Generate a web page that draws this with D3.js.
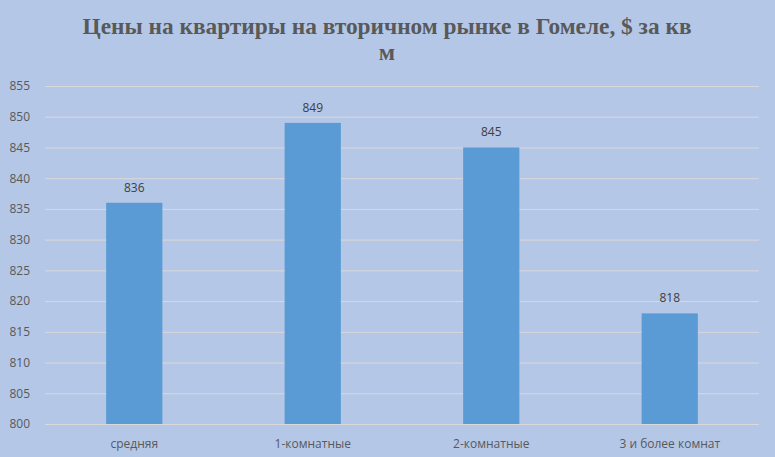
<!DOCTYPE html>
<html>
<head>
<meta charset="utf-8">
<script src="https://cdn.jsdelivr.net/npm/d3@7"></script>
<style>
	body { margin: 0; background: #b4c7e7; }
	svg { display: block; }
	.tick text { font-family: 'Open Sans', sans-serif; font-size: 12px; fill: #595959; }
	.label { font-family: 'Open Sans', sans-serif; font-size: 12px; fill: #404040; }
	.title { font-family: 'Liberation Serif', serif; font-weight: bold; font-size: 24px; fill: #595959; }
</style>
</head>
<body>
<svg width="775" height="457"></svg>
<script>
const categories = ['средняя', '1-комнатные', '2-комнатные', '3 и более комнат'];
const values = [836, 849, 845, 818];
const yTicks = [800, 805, 810, 815, 820, 825, 830, 835, 840, 845, 850, 855];
const titleLines = ['Цены на квартиры на вторичном рынке в Гомеле, $ за кв', 'м'];

const svg = d3.select('svg');
const width = +svg.attr('width');
const height = +svg.attr('height');

const data = categories.map((c, i) => ({category: c, value: values[i]}));

const margin = {top: 86, right: 16, bottom: 33, left: 45};
const innerWidth = width - margin.left - margin.right;
const innerHeight = height - margin.top - margin.bottom;

svg.append('rect')
	.attr('width', width)
	.attr('height', height)
	.attr('fill', '#b4c7e7');

const xScale = d3.scaleBand()
	.domain(categories)
	.range([0, innerWidth])
	.paddingInner(0.685)
	.paddingOuter(0.3425);

const yScale = d3.scaleLinear()
	.domain([800, 855])
	.range([innerHeight, 0]);

const g = svg.append('g')
	.attr('transform', `translate(${margin.left}, ${margin.top})`);

const yAxis = d3.axisLeft(yScale)
	.tickValues(yTicks)
	.tickSize(-innerWidth)
	.tickPadding(15);

const yAxisG = g.append('g').call(yAxis);
yAxisG.select('.domain').remove();
yAxisG.selectAll('.tick line')
	.attr('stroke', '#d9d9d9')
	.attr('stroke-width', 1);

const xAxis = d3.axisBottom(xScale)
	.tickSize(0)
	.tickPadding(15);

const xAxisG = g.append('g')
	.attr('transform', `translate(0, ${innerHeight})`)
	.call(xAxis);
xAxisG.select('.domain').remove();

g.selectAll('rect.bar').data(data)
	.enter().append('rect')
		.attr('class', 'bar')
		.attr('x', d => xScale(d.category))
		.attr('y', d => yScale(d.value))
		.attr('width', xScale.bandwidth())
		.attr('height', d => innerHeight - yScale(d.value))
		.attr('fill', '#5b9bd5');

g.selectAll('text.label').data(data)
	.enter().append('text')
		.attr('class', 'label')
		.attr('x', d => xScale(d.category) + xScale.bandwidth() / 2)
		.attr('y', d => yScale(d.value) - 11)
		.attr('text-anchor', 'middle')
		.text(d => d.value);

svg.selectAll('text.title').data(titleLines)
	.enter().append('text')
		.attr('class', 'title')
		.attr('x', 387)
		.attr('y', (d, i) => 34 + i * 26)
		.attr('text-anchor', 'middle')
		.attr('textLength', (d, i) => i === 0 ? 609 : null)
		.attr('lengthAdjust', 'spacingAndGlyphs')
		.text(d => d);
</script>
</body>
</html>
